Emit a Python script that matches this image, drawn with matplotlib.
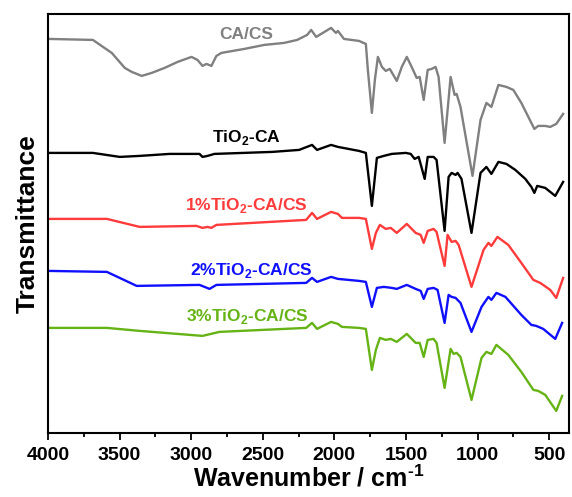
import matplotlib
matplotlib.use("Agg")
import matplotlib.pyplot as plt
from matplotlib.ticker import MultipleLocator

plt.rcParams['font.family'] = ['Liberation Sans', 'DejaVu Sans']
plt.rcParams['font.weight'] = 'bold'
plt.rcParams['mathtext.fontset'] = 'custom'
plt.rcParams['mathtext.rm'] = 'Liberation Sans:bold'
plt.rcParams['mathtext.bf'] = 'Liberation Sans:bold'

# FTIR spectra, stacked (arbitrary transmittance units, offsets included)
wn_cacs = [4000, 3687, 3555, 3464, 3415, 3346, 3276, 3186, 3095, 2998,
           2956, 2921, 2893, 2859, 2824, 2789, 2629, 2490, 2351, 2260,
           2190, 2162, 2127, 2023, 1989, 1975, 1933, 1828, 1780, 1766,
           1738, 1717, 1696, 1668, 1641, 1613, 1564, 1529, 1494, 1460,
           1425, 1404, 1376, 1348, 1320, 1293, 1272, 1230, 1188, 1160,
           1146, 1119, 1035, 979, 938, 903, 854, 798, 750, 694,
           645, 603, 576, 527, 492, 450, 402]
t_cacs = [394, 393, 380, 365, 361, 357, 360, 365, 371, 376,
          373, 367, 369, 367, 377, 380, 384, 388, 390, 393,
          398, 403, 396, 405, 400, 402, 394, 392, 389, 363,
          320, 353, 376, 366, 362, 364, 352, 366, 376, 366,
          355, 356, 333, 363, 364, 366, 356, 290, 356, 338,
          339, 326, 257, 313, 330, 326, 348, 346, 343, 330,
          316, 304, 307, 307, 306, 309, 319]

wn_tio2ca = [4000, 3687, 3499, 3360, 3151, 2942, 2921, 2886, 2838, 2434,
             2246, 2156, 2121, 2023, 1975, 1828, 1780, 1738, 1703, 1655,
             1599, 1501, 1467, 1439, 1411, 1369, 1348, 1307, 1286, 1230,
             1202, 1181, 1153, 1139, 1112, 1042, 979, 938, 903, 854,
             798, 736, 666, 624, 603, 583, 527, 457, 402]
t_tio2ca = [280, 280, 276, 277, 279, 279, 276, 277, 279, 281,
            283, 288, 283, 288, 286, 282, 280, 227, 275, 277,
            279, 280, 279, 274, 276, 254, 276, 276, 273, 202,
            256, 260, 258, 260, 254, 200, 260, 266, 259, 271,
            269, 263, 254, 246, 240, 247, 245, 237, 251]

wn_1pct = [4000, 3589, 3360, 2963, 2921, 2886, 2859, 2824, 2197, 2156,
           2121, 2023, 1975, 1947, 1828, 1780, 1738, 1710, 1682, 1641,
           1606, 1564, 1494, 1432, 1397, 1376, 1348, 1307, 1286, 1230,
           1209, 1181, 1153, 1132, 1042, 958, 924, 903, 861, 785,
           694, 610, 562, 492, 450, 402]
t_1pct = [214, 214, 206, 207, 205, 206, 205, 208, 213, 220,
          214, 221, 219, 215, 215, 214, 184, 200, 208, 204,
          205, 200, 209, 200, 198, 190, 202, 204, 201, 167,
          198, 191, 192, 188, 146, 183, 190, 187, 196, 188,
          170, 153, 150, 143, 135, 155]

wn_2pct = [4000, 3589, 3381, 2942, 2872, 2824, 2197, 2156, 2121, 2023,
           1975, 1828, 1780, 1738, 1703, 1655, 1599, 1564, 1494, 1432,
           1397, 1376, 1348, 1307, 1279, 1230, 1202, 1181, 1153, 1119,
           1042, 972, 924, 903, 868, 805, 694, 624, 590, 541,
           457, 409]
t_2pct = [162, 161, 147, 148, 144, 148, 150, 155, 151, 156,
          154, 152, 151, 126, 145, 146, 145, 144, 148, 144,
          142, 134, 144, 145, 143, 110, 138, 136, 135, 130,
          101, 126, 136, 133, 140, 136, 118, 108, 107, 104,
          94, 110]

wn_3pct = [4000, 3589, 3360, 2921, 2803, 2197, 2156, 2121, 2023, 1975,
           1947, 1828, 1780, 1738, 1710, 1682, 1641, 1606, 1564, 1494,
           1432, 1404, 1376, 1348, 1307, 1286, 1230, 1188, 1167, 1146,
           1119, 1042, 972, 938, 903, 868, 785, 694, 610, 576,
           527, 450, 409]
t_3pct = [105, 105, 102, 97, 101, 105, 110, 104, 111, 109,
          106, 105, 104, 63, 83, 95, 93, 94, 91, 99,
          90, 90, 76, 93, 94, 90, 45, 84, 79, 80,
          76, 33, 75, 81, 79, 88, 78, 61, 43, 42,
          38, 22, 37]

labels = ['CA/CS', r'TiO$_\mathbf{2}$-CA', r'1%TiO$_\mathbf{2}$-CA/CS',
          r'2%TiO$_\mathbf{2}$-CA/CS', r'3%TiO$_\mathbf{2}$-CA/CS']
colors = ['#808080', '#000000', '#ff3b3b', '#1010ff', '#66b316']
label_x = [2615, 2615, 2615, 2580, 2608]
label_y = [398, 295, 227, 162, 116]

series = [(wn_cacs, t_cacs), (wn_tio2ca, t_tio2ca), (wn_1pct, t_1pct),
          (wn_2pct, t_2pct), (wn_3pct, t_3pct)]

fig = plt.figure(figsize=(5.72, 4.97), dpi=100)
ax = fig.add_axes([0.084, 0.129, 0.911, 0.843])

for (x, y), c, lab, lx, ly in zip(series, colors, labels, label_x, label_y):
    ax.plot(x, y, color=c, lw=1.7, solid_joinstyle='round')
    ax.text(lx, ly, lab, color=c, fontsize=12.5, fontweight='bold',
            ha='center', va='center')

ax.set_xlim(4000, 360)
ax.set_ylim(0, 419)
ax.xaxis.set_major_locator(MultipleLocator(500))
ax.xaxis.set_minor_locator(MultipleLocator(250))
ax.tick_params(axis='x', which='major', direction='out', length=5, width=1.3,
               labelsize=14, pad=5)
ax.tick_params(axis='x', which='minor', direction='out', length=3, width=1.3)
for lbl in ax.get_xticklabels():
    lbl.set_fontweight('bold')
ax.set_yticks([])
for s in ax.spines.values():
    s.set_linewidth(1.5)

ax.set_xlabel(r'Wavenumber / cm$^{\text{-1}}$', fontsize=18, fontweight='bold',
              labelpad=1)
ax.set_ylabel('Transmittance', fontsize=19, fontweight='bold', labelpad=6)

fig.savefig('out.png', dpi=100)
